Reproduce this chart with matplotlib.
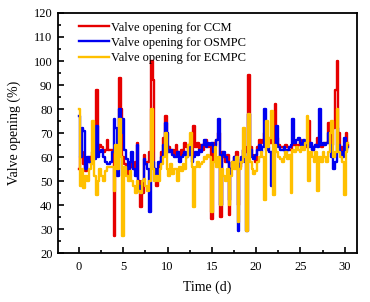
import numpy as np
import matplotlib
matplotlib.use("Agg")
import matplotlib.pyplot as plt
from matplotlib.ticker import MultipleLocator

plt.rcParams['font.family'] = ['Liberation Serif', 'DejaVu Serif']

# time grid, 0.2 d steps
t = np.round(np.arange(0, 30.41, 0.2), 2)

# valve opening (%), one row per day
ccm = [55, 60, 62, 57, 54,
       58, 60, 57, 62, 60,
       88, 62, 65, 64, 62,
       63, 67, 63, 63, 63,
       27, 55, 62, 93, 80,
       60, 57, 55, 53, 56,
       57, 55, 58, 66, 50,
       39, 45, 61, 57, 58,
       62, 100, 92, 55, 48,
       55, 58, 62, 68, 77,
       65, 64, 62, 63, 61,
       65, 62, 60, 63, 61,
       66, 64, 62, 66, 60,
       73, 64, 66, 63, 65,
       63, 66, 67, 64, 65,
       34, 66, 65, 67, 70,
       35, 62, 60, 58, 61,
       36, 55, 58, 60, 62,
       40, 56, 58, 63, 64,
       62, 94, 64, 61, 60,
       58, 64, 67, 66, 67,
       70, 66, 65, 67, 66,
       66, 82, 68, 65, 64,
       64, 63, 65, 64, 63,
       63, 65, 66, 64, 65,
       67, 65, 66, 64, 66,
       75, 65, 63, 64, 65,
       68, 66, 64, 65, 66,
       66, 74, 70, 65, 72,
       88, 100, 70, 62, 64,
       63, 70, 65]

osmpc = [77, 60, 72, 71, 55,
         60, 58, 57, 60, 59,
         73, 60, 62, 63, 60,
         58, 57, 57, 58, 62,
         76, 72, 52, 80, 70,
         76, 63, 59, 55, 58,
         62, 55, 52, 65, 48,
         45, 50, 59, 57, 55,
         37, 62, 58, 55, 52,
         58, 57, 60, 65, 74,
         70, 62, 63, 61, 60,
         60, 62, 58, 60, 61,
         62, 60, 61, 64, 58,
         60, 62, 61, 63, 62,
         65, 67, 64, 66, 65,
         66, 62, 64, 67, 76,
         40, 61, 62, 60, 58,
         42, 55, 58, 60, 59,
         29, 57, 60, 63, 58,
         29, 78, 63, 60, 59,
         61, 63, 65, 62, 64,
         80, 63, 64, 62, 48,
         63, 65, 73, 64, 63,
         63, 64, 62, 63, 64,
         65, 76, 66, 67, 68,
         66, 65, 67, 66, 65,
         64, 66, 63, 64, 65,
         64, 80, 65, 66, 65,
         66, 70, 65, 60, 55,
         58, 72, 65, 62, 60,
         68, 63, 64]

ecmpc = [80, 48, 55, 47, 52,
         50, 55, 57, 75, 52,
         44, 50, 55, 52, 50,
         54, 56, 56, 56, 56,
         46, 65, 55, 76, 60,
         27, 56, 52, 50, 54,
         50, 48, 45, 50, 46,
         45, 50, 51, 48, 46,
         50, 80, 55, 50, 52,
         50, 55, 57, 60, 70,
         55, 52, 57, 53, 55,
         55, 50, 56, 54, 57,
         55, 60, 65, 70, 56,
         39, 56, 58, 56, 57,
         58, 60, 59, 61, 60,
         37, 58, 64, 56, 60,
         40, 55, 52, 50, 55,
         40, 52, 58, 55, 60,
         33, 55, 58, 72, 60,
         29, 78, 58, 55, 53,
         54, 58, 60, 62, 60,
         42, 75, 64, 68, 79,
         44, 65, 62, 60, 59,
         58, 60, 62, 59, 61,
         45, 63, 62, 64, 63,
         62, 64, 63, 66, 77,
         50, 62, 60, 58, 62,
         46, 60, 58, 62, 60,
         58, 62, 70, 75, 60,
         62, 80, 62, 60, 58,
         44, 62, 66]

fig = plt.figure(figsize=(3.7, 3.02), dpi=100)
ax = fig.add_axes([0.157, 0.162, 0.808, 0.795])

ax.plot(t, ccm, color='#E60000', lw=1.7, drawstyle='steps-mid', label='Valve opening for CCM')
ax.plot(t, osmpc, color='#0000F0', lw=1.7, drawstyle='steps-mid', label='Valve opening for OSMPC')
ax.plot(t, ecmpc, color='#FFC000', lw=1.7, drawstyle='steps-mid', label='Valve opening for ECMPC')

ax.set_xlim(-2.37, 31.4)
ax.set_ylim(20, 120)
ax.xaxis.set_major_locator(MultipleLocator(5))
ax.xaxis.set_minor_locator(MultipleLocator(2.5))
ax.yaxis.set_major_locator(MultipleLocator(10))
ax.yaxis.set_minor_locator(MultipleLocator(5))
ax.tick_params(which='both', direction='in', top=False, right=False, labelsize=9)
ax.tick_params(which='major', length=4, width=1.2)
ax.tick_params(axis='x', which='major', pad=6)
ax.tick_params(axis='y', which='major', pad=4)
ax.tick_params(which='minor', length=2.5, width=1.2)
for s in ax.spines.values():
    s.set_linewidth(1.3)

ax.set_xlabel('Time (d)', fontsize=10, labelpad=5)
ax.set_ylabel('Valve opening (%)', fontsize=10, labelpad=9)

ax.legend(loc='upper left', frameon=False, fontsize=9, handlelength=2.4,
          handletextpad=0.15, labelspacing=0.25, borderaxespad=0.3,
          bbox_to_anchor=(0.04, 1.0))

fig.savefig('out.png', dpi=100)
